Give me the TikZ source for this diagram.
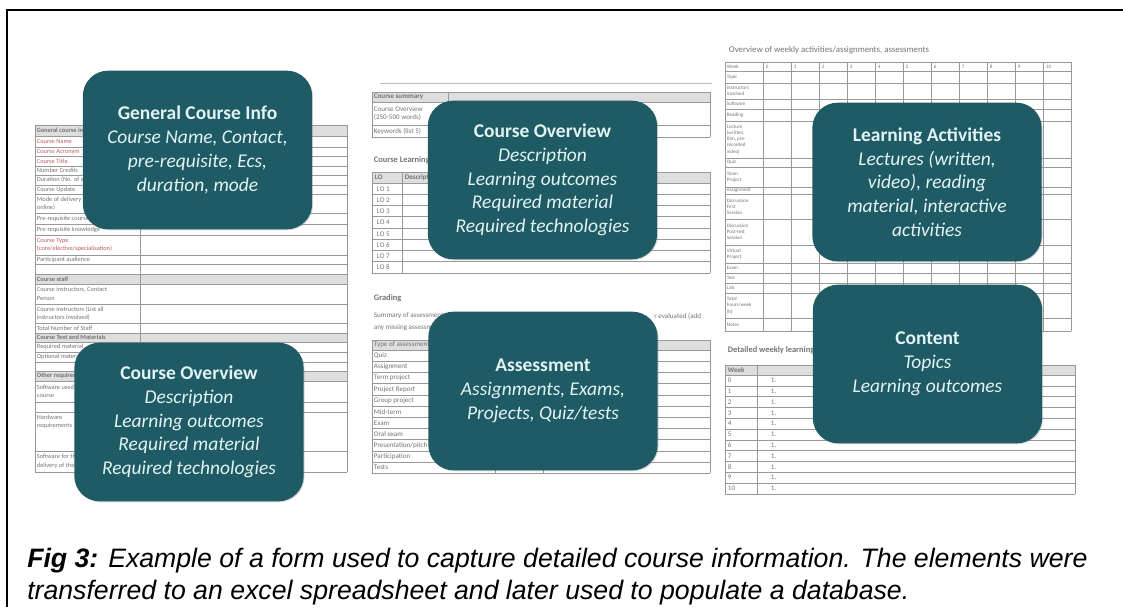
\documentclass[tikz,border=0pt]{standalone}
\usepackage{fontspec}
\setmainfont{Carlito}
\newfontfamily\capfont{Liberation Sans}
\usetikzlibrary{positioning,shadows}
\definecolor{boxteal}{RGB}{31,91,100}
\definecolor{boxtext}{RGB}{226,243,243}
\definecolor{formred}{RGB}{190,90,90}
\tikzset{
  info_box/.style = {rounded corners=19pt, fill=boxteal, text=boxtext, align=center,
    minimum width=172pt, minimum height=119pt, inner sep=0pt,
    font=\fontsize{14.6}{17.8}\selectfont\itshape,
    drop shadow={opacity=0.3, shadow xshift=0.7pt, shadow yshift=-0.7pt}},% teal boxes
  form_line/.style = {draw=black!40, line width=0.45pt},
  form_head/.style = {fill=black!13},
  form_txt/.style = {text=black!55, inner sep=0.5pt, anchor=west, align=left,
    font=\fontsize{5.3}{6.6}\selectfont},
  form_bold/.style = {form_txt, font=\fontsize{6.3}{7}\selectfont\bfseries},
  wk_txt/.style = {form_txt, font=\fontsize{3.8}{4.6}\selectfont},
}
\newcommand{\boxhead}[1]{{\upshape\bfseries #1}}

\begin{document}
\begin{tikzpicture}[x=0.75pt,y=-0.75pt]
\useasboundingbox (0,0) rectangle (1123,607);
\draw[line width=1.5pt] (1123,10) -- (7,10) -- (7,607);

%left form
\foreach \ya/\yb in {125/136,274/284,333/342,371/381}
  \fill[form_head] (35,\ya) rectangle (347,\yb);
\foreach \y in {125,136,147,156,166,175,185,194,213,224,235,255,264,274,284,304,323,333,342,352,362,371,381,402,412,451,472}
  \draw[form_line] (35,\y) -- (347,\y);
\foreach \x in {35,140,347}
  \draw[form_line] (\x,125) -- (\x,472);
\foreach \y/\txt [count=\i] in {130.5/General course info, 279/Course staff, 337.5/Course Text and Materials, 376/Other requirements}
  \node[form_txt, font=\fontsize{4.8}{6}\selectfont\bfseries] (lh_\i) at (36,\y) {\txt};
\foreach \y/\txt [count=\i] in {141.5/Course Name, 151.5/Course Acronym, 161/Course Title, 245/{Course Type\\(core/elective/specialisation)}}
  \node[form_txt, text=formred, font=\fontsize{4.8}{6.4}\selectfont] (lr_\i) at (36,\y) {\txt};
\foreach \y/\txt [count=\i] in {170.5/Number Credits, 180/Duration (No. of weeks), 189.5/Course Update, 203.5/{Mode of delivery (blended,\\online)}, 218.5/Pre-requisite courses, 229.5/Pre-requisite knowledge, 259.5/Participant audience, 294/{Course instructors, Contact\\Person}, 313.5/{Course instructors (List all\\instructors involved)}, 328/Total Number of Staff, 347/Required material, 357/Optional material, 391.5/{Software used in the\\course}, 422/{Hardware\\requirements}, 461.5/{Software for the\\delivery of the course}}
  \node[form_txt, font=\fontsize{4.8}{6.4}\selectfont] (lf_\i) at (36,\y) {\txt};

%middle forms
\draw[black!25, line width=0.6pt] (380,83) -- (712,83);
\fill[form_head] (372,92) rectangle (710,102);
\foreach \y in {92,102,125,137}
  \draw[form_line] (372,\y) -- (710,\y);
\foreach \x in {372,448,710}
  \draw[form_line] (\x,92) -- (\x,137);
\node[form_bold, font=\fontsize{5.3}{6.4}\selectfont\bfseries] (sum_head) at (373,97) {Course summary};
\node[form_txt] (sum_ovw) at (373,113.5) {Course Overview\\(250-500 words)};
\node[form_txt] (sum_key) at (373,131) {Keywords (list 5)};

\node[form_bold] (lo_title) at (373,160) {Course Learning Outcomes};
\fill[form_head] (372,172) rectangle (710,183);
\draw[form_line] (372,172) -- (710,172);
\foreach \i in {0,...,8}
  \draw[form_line] (372,183+11.25*\i) -- (710,183+11.25*\i);
\foreach \x in {372,402,710}
  \draw[form_line] (\x,172) -- (\x,273);
\node[form_bold, font=\fontsize{5.3}{6.4}\selectfont\bfseries] (lo_head) at (374,177.5) {LO};
\node[form_bold, font=\fontsize{5.3}{6.4}\selectfont\bfseries] (lo_desc) at (404,177.5) {Description};
\foreach \i in {1,...,8}
  \node[form_txt] (lo_\i) at (376,177.5+11.25*\i) {LO \i};

\node[form_bold] (grading) at (373,298) {Grading};
\node[form_txt] (sum_1) at (373,316) {Summary of assessments};
\node[form_txt, anchor=east] (sum_2) at (702,316) {r evaluated (add};
\node[form_txt] (sum_3) at (373,328) {any missing assessments)};
\fill[form_head] (372,340) rectangle (710,350);
\draw[form_line] (372,340) -- (710,340);
\foreach \i in {0,...,11}
  \draw[form_line] (372,350+11.2*\i) -- (710,350+11.2*\i);
\foreach \x in {372,495,543,710}
  \draw[form_line] (\x,340) -- (\x,473.2);
\node[form_txt] (as_head) at (373,345) {Type of assessment};
\foreach \txt [count=\i] in {Quiz,Assignment,Term project,Project Report,Group project,Mid-term,Exam,Oral exam,Presentation/pitch,Participation,Tests}
  \node[form_txt] (as_\i) at (373,344.4+11.2*\i) {\txt};

%right forms
\node[form_txt, font=\fontsize{6.6}{7.5}\selectfont] (wk_title) at (728,50) {Overview of weekly activities/assignments, assessments};
\foreach \y in {62,71,83,99,109,121,158,167,187,194,219,245,263,273,283,293,318,331}
  \draw[form_line] (725,\y) -- (1071,\y);
\draw[form_line] (725,62) -- (725,331);
\foreach \x in {763,791,...,1071}
  \draw[form_line] (\x,62) -- (\x,331);
\foreach \k in {0,...,10}
  \node[wk_txt] (wn_\k) at (765+28*\k,66.5) {\k};
\foreach \y/\txt [count=\i] in {66.5/Week, 77/Topic, 91/{Instructors\\involved}, 104/Software, 115/Reading, 139.5/{Lecture\\(written,\\film, pre-\\recorded\\video)}, 162.5/Quiz, 177/{Team\\Project}, 190.5/Assignment, 206.5/{Discussion\\First\\Session}, 232/{Discussion\\Post-test\\Session}, 254/{Virtual\\Project}, 268/Exam, 278/Test, 288/Lab, 305.5/{Total\\hours/week\\(h)}, 324.5/Notes}
  \node[wk_txt] (wk_\i) at (726,\y) {\txt};

\node[form_bold] (det_title) at (727,350) {Detailed weekly learning activities};
\fill[form_head] (725,365) rectangle (1075,375);
\draw[form_line] (725,365) -- (1075,365);
\foreach \i in {0,...,11}
  \draw[form_line] (725,375+10.8*\i) -- (1075,375+10.8*\i);
\foreach \x in {725,757,1075}
  \draw[form_line] (\x,365) -- (\x,493.8);
\node[form_bold, font=\fontsize{5.3}{6.4}\selectfont\bfseries] (det_head) at (727,370) {Week};
\foreach \k in {0,...,10}{
  \node[form_txt] (dw_\k) at (727,380.4+10.8*\k) {\k};
  \node[form_txt] (dl_\k) at (770,380.4+10.8*\k) {1.};
}

%teal boxes
\node[info_box] (gen_info) at (197.5,150) {\boxhead{General Course Info}\\Course Name, Contact,\\pre-requisite, Ecs,\\duration, mode};
\node[info_box] (ovw_low) at (189,422) {\boxhead{Course Overview}\\Description\\Learning outcomes\\Required material\\Required technologies};
\node[info_box] (ovw_top) at (542.5,180) {\boxhead{Course Overview}\\Description\\Learning outcomes\\Required material\\Required technologies};
\node[info_box] (assess) at (543,391) {\boxhead{Assessment}\\Assignments, Exams,\\Projects, Quiz/tests};
\node[info_box] (learn_act) at (927,182) {\boxhead{Learning Activities}\\Lectures (written,\\video), reading\\material, interactive\\activities};
\node[info_box] (content) at (927.5,364) {\boxhead{Content}\\Topics\\Learning outcomes};

%caption
\node[anchor=base west, inner sep=0pt, font=\capfont\fontsize{20}{24}\selectfont\itshape] (cap_1) at (27,567) {\textbf{Fig 3:} Example of a form used to capture detailed course information. The elements were};
\node[anchor=base west, inner sep=0pt, font=\capfont\fontsize{20}{24}\selectfont\itshape] (cap_2) at (27,599) {transferred to an excel spreadsheet and later used to populate a database.};
\end{tikzpicture}
\end{document}
